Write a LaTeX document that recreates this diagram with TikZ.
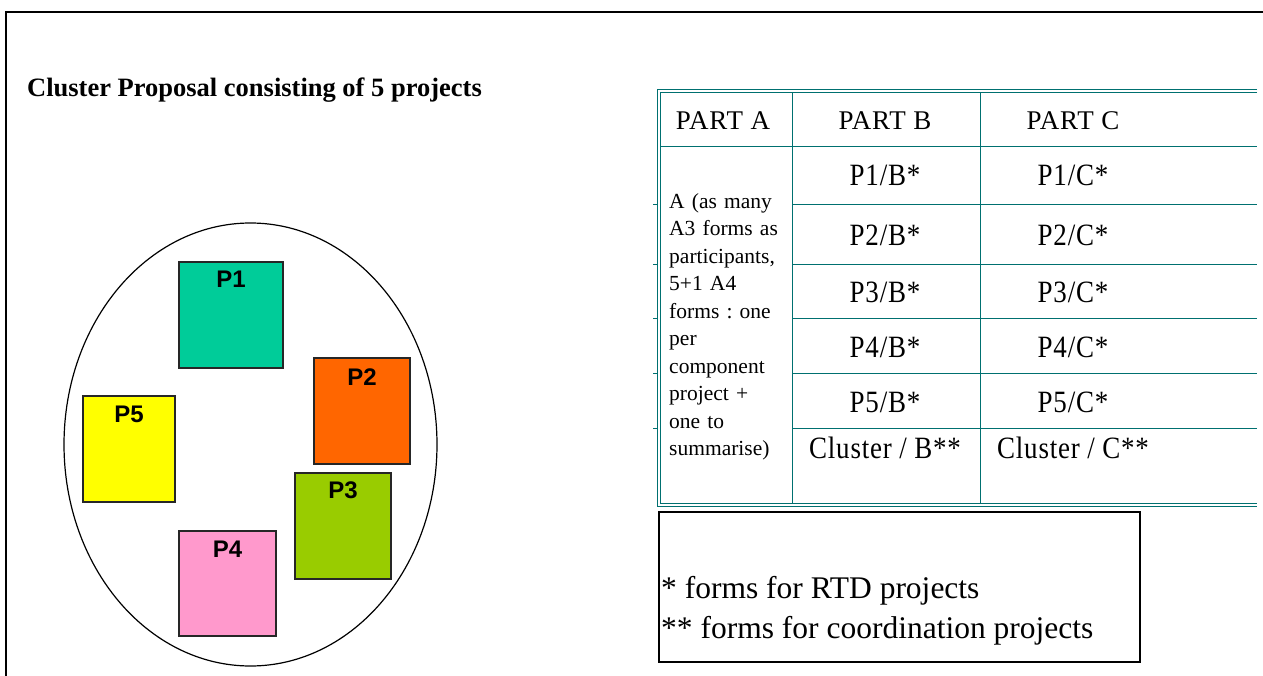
\documentclass[tikz,border=0pt]{standalone}
\usepackage{fontspec}
\usetikzlibrary{shapes.geometric}
\setmainfont{Liberation Serif}
\newfontfamily\labelfont{Liberation Sans}
\newfontfamily\headfont{Liberation Serif}[LetterSpace=3]
\newfontfamily\cellfont{Liberation Serif}[FakeStretch=0.87, LetterSpace=2.5]
\definecolor{tealline}{RGB}{0,112,112}
\definecolor{pone}{RGB}{0,204,153}
\definecolor{ptwo}{RGB}{255,102,0}
\definecolor{pthree}{RGB}{153,204,0}
\definecolor{pfour}{RGB}{255,153,204}
\definecolor{pfive}{RGB}{255,255,0}
\frenchspacing
\begin{document}
\begin{tikzpicture}[x=1pt,y=-1pt,
  frameline/.style={line width=1.6pt, black},
  gridline/.style={draw=tealline, line width=0.9pt},
  pbox/.style={draw=black!85, line width=1.3pt, inner sep=0pt},
  plabel/.style={font=\labelfont\bfseries\fontsize{24}{24}\selectfont, anchor=base, inner sep=0pt},
  headtext/.style={font=\headfont\fontsize{27}{27}\selectfont, anchor=base, inner sep=0pt},
  celltext/.style={font=\cellfont\fontsize{31}{31}\selectfont, anchor=base, inner sep=0pt},
  parta/.style={font=\fontsize{21.5}{27.5}\selectfont, align=left, anchor=west, inner sep=0pt, text width=120pt},
  legendtext/.style={font=\fontsize{31.5}{31.5}\selectfont, anchor=base west, inner sep=0pt}
]
\useasboundingbox (0,0) rectangle (1263,676);

% page frame
\draw[frameline] (6,676) -- (6,12) -- (1263,12);

% title
\node[font=\bfseries\fontsize{26.5}{26.5}\selectfont, anchor=base west, inner sep=0pt] (title) at (27,97) {Cluster Proposal consisting of 5 projects};

% cluster with its five projects
\node[draw, ellipse, line width=1.2pt, minimum width=373pt, minimum height=443pt, inner sep=0pt] (cluster) at (250.5,444.5) {};
\node[pbox, fill=pone,   minimum width=104pt, minimum height=106pt] (p1) at (231,315) {};
\node[pbox, fill=ptwo,   minimum width=96pt,  minimum height=106pt] (p2) at (362,411) {};
\node[pbox, fill=pthree, minimum width=96pt,  minimum height=106pt] (p3) at (343,526) {};
\node[pbox, fill=pfour,  minimum width=97pt,  minimum height=105pt] (p4) at (227.5,583.5) {};
\node[pbox, fill=pfive,  minimum width=92pt,  minimum height=106pt] (p5) at (129,449) {};
\node[plabel] (l1) at ([yshift=-26pt]p1.north) {P1};
\node[plabel] (l2) at ([yshift=-28pt]p2.north) {P2};
\node[plabel] (l3) at ([yshift=-26pt]p3.north) {P3};
\node[plabel] (l4) at ([yshift=-27pt]p4.north) {P4};
\node[plabel] (l5) at ([yshift=-27pt]p5.north) {P5};

% table: double outer border
\draw[gridline] (1257,89.5) -- (657,89.5) -- (657,506) -- (1257,506);
\draw[gridline] (1257,92.5) -- (660,92.5) -- (660,503) -- (1257,503);
\foreach \yy in {204,264,318,373,428} \draw[gridline] (653,\yy) -- (657,\yy);
% table: inner grid
\draw[gridline] (792,92.5) -- (792,503);
\draw[gridline] (980,92.5) -- (980,503);
\draw[gridline] (660,146) -- (1257,146);
\foreach \yy in {204,264,318,373,428} \draw[gridline] (792,\yy) -- (1257,\yy);

% table: headers
\node[headtext] (ha) at (723,130) {PART A};
\node[headtext] (hb) at (885,130) {PART B};
\node[headtext] (hc) at (1073,130) {PART C};

% table: part A description
\node[parta] (adesc) at (669,327) {A (as many\\A3 forms as\\participants,\\5+1 A4\\forms : one\\per\\component\\project +\\one to\\summarise)};

% table: part B and C rows
\node[celltext] (b1) at (885,186) {P1/B*};
\node[celltext] (c1) at (1073,186) {P1/C*};
\node[celltext] (b2) at (885,246) {P2/B*};
\node[celltext] (c2) at (1073,246) {P2/C*};
\node[celltext] (b3) at (885,302) {P3/B*};
\node[celltext] (c3) at (1073,302) {P3/C*};
\node[celltext] (b4) at (885,357) {P4/B*};
\node[celltext] (c4) at (1073,357) {P4/C*};
\node[celltext] (b5) at (885,412) {P5/B*};
\node[celltext] (c5) at (1073,412) {P5/C*};
\node[celltext] (bc) at (885,458) {Cluster / B**};
\node[celltext] (cc) at (1073,458) {Cluster / C**};

% legend
\node[draw, line width=1.3pt, minimum width=481pt, minimum height=150pt, inner sep=0pt] (legend) at (899.5,587) {};
\node[legendtext] (leg1) at (661,598) {* forms for RTD projects};
\node[legendtext] (leg2) at (661,638) {** forms for coordination projects};
\end{tikzpicture}
\end{document}
